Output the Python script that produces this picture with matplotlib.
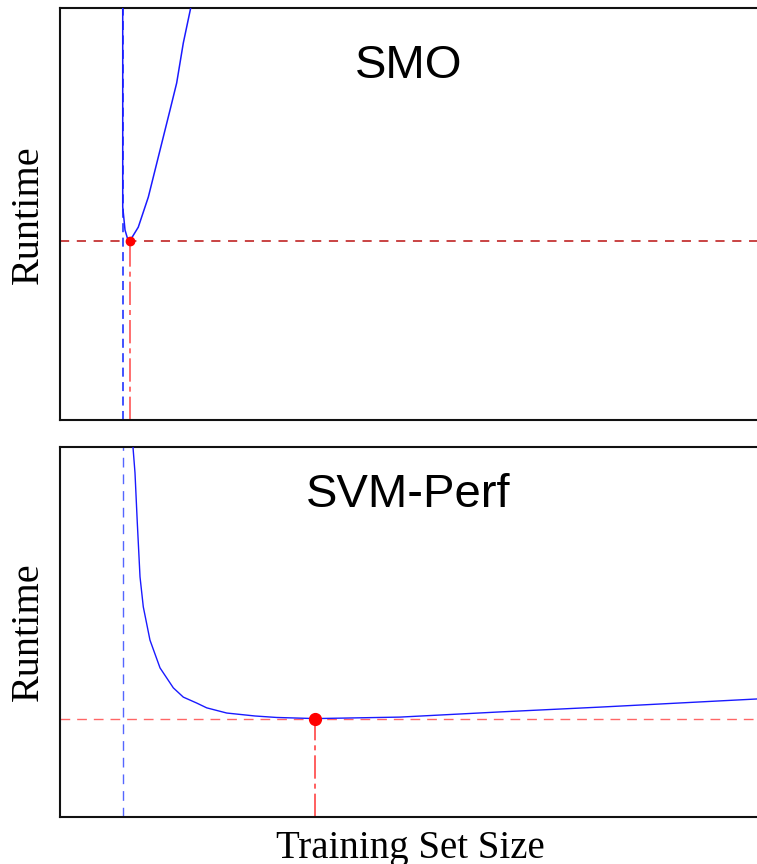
import matplotlib
matplotlib.use("Agg")
import matplotlib.pyplot as plt
import numpy as np

# ---- data (arbitrary units) ----
smo_x = [9.0, 9.0, 9.0, 9.0, 9.33, 9.71, 10.0, 11.23, 12.67, 14.35, 15.78, 16.74, 17.69, 18.75, 19.3]
smo_y = [104.0, 100.0, 75.0, 51.7, 46.1, 43.9, 43.4, 46.8, 54.1, 65.5, 75.2, 81.8, 91.5, 100.0, 104.0]
smo_ref_x = 9.0          # blue dashed reference line

perf_x = [10.3, 10.47, 10.76, 11.09, 11.48, 11.95, 12.91, 14.35, 16.26, 17.69, 19.61, 21.05,
          23.92, 27.98, 31.09, 36.63, 48.78, 63.13, 77.47, 91.82, 100.0]
perf_y = [105.0, 100.0, 93.0, 79.5, 64.9, 56.8, 47.8, 40.3, 34.9, 32.4, 30.8, 29.5,
          28.1, 27.3, 26.9, 26.6, 27.0, 28.4, 29.7, 31.1, 31.9]
perf_ref_x = 9.04        # blue dashed reference line

titles = ["SMO", "SVM-Perf"]
ylabel = "Runtime"
xlabel = "Training Set Size"

W, H = 757, 864
fig = plt.figure(figsize=(W / 100, H / 100), dpi=100)

def px_axes(left, top, right, bottom):
    return fig.add_axes([left / W, 1 - bottom / H, (right - left) / W, (bottom - top) / H])

ax1 = px_axes(60, 8, 757, 420)
ax2 = px_axes(60, 447, 757, 817)

serif = ["Liberation Serif", "DejaVu Serif"]
sans = ["Liberation Sans", "DejaVu Sans"]

def style(ax):
    ax.set_xlim(0, 100)
    ax.set_ylim(0, 100)
    ax.set_xticks([])
    ax.set_yticks([])
    ax.spines["right"].set_visible(False)
    for s in ["left", "top", "bottom"]:
        ax.spines[s].set_linewidth(1.5)
        ax.spines[s].set_color("#111111")

# ---- SMO panel ----
style(ax1)
ax1.axvline(smo_ref_x, color="#3344ff", lw=1.3, ls=(0, (5, 3)), zorder=2)
ax1.plot(smo_x, smo_y, color="#1a1aff", lw=1.1, zorder=3)
i1 = int(np.argmin(smo_y))
mx1, my1 = smo_x[i1], smo_y[i1]
ax1.axhline(my1, color="#bb1111", lw=1.1, ls=(0, (6, 5)), zorder=2)
ax1.plot([mx1, mx1], [0, my1], color="#ff5555", lw=1.2, ls=(0, (14, 3, 3, 3)), zorder=2)
ax1.plot([mx1], [my1], "o", color="red", ms=6, zorder=4, clip_on=False)
ax1.text(0.5, 0.86, titles[0], transform=ax1.transAxes, ha="center", va="center",
         fontsize=34, family=sans)

# ---- SVM-Perf panel ----
style(ax2)
ax2.axvline(perf_ref_x, color="#5566ff", lw=1.0, ls=(0, (7, 5)), zorder=2)
ax2.plot(perf_x, perf_y, color="#1a1aff", lw=1.0, zorder=3)
i2 = int(np.argmin(perf_y))
mx2, my2 = perf_x[i2], perf_y[i2]
ax2.axhline(my2, color="#ff6666", lw=1.0, ls=(0, (7, 5)), zorder=2)
ax2.plot([mx2, mx2], [0, my2], color="#ff4444", lw=1.2, ls=(0, (14, 3, 3, 3)), zorder=2)
ax2.plot([mx2], [my2], "o", color="red", ms=8.5, zorder=4)
ax2.text(0.5, 0.87, titles[1], transform=ax2.transAxes, ha="center", va="center",
         fontsize=34, family=sans)

# ---- labels ----
fig.text(28 / W, 1 - 215 / H, ylabel, rotation=90, ha="center", va="center",
         fontsize=29, family=serif)
fig.text(28 / W, 1 - 632 / H, ylabel, rotation=90, ha="center", va="center",
         fontsize=29, family=serif)
fig.text(410 / W, 1 - 858 / H, xlabel, ha="center", va="baseline",
         fontsize=28, family=serif)

fig.savefig("out.png", dpi=100)
